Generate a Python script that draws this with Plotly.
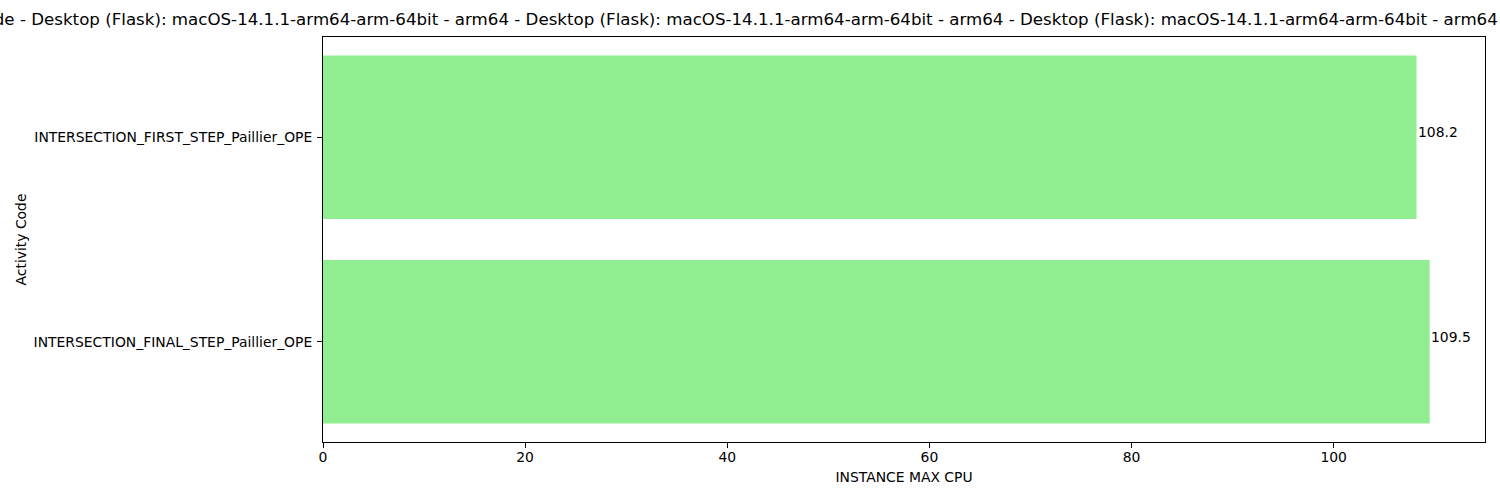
import plotly.graph_objects as go

categories = ["INTERSECTION_FINAL_STEP_Paillier_OPE", "INTERSECTION_FIRST_STEP_Paillier_OPE"]
values = [109.5, 108.2]
x_ticks = [0, 20, 40, 60, 80, 100]
env = " - Desktop (Flask): macOS-14.1.1-arm64-arm-64bit - arm64"
title_text = "Max CPU by Activity Code" + env * 4

FONT = "DejaVu Sans"

fig = go.Figure()
fig.add_trace(go.Bar(
    x=values, y=categories, orientation="h", width=0.8,
    marker=dict(color="#90EE90", line=dict(width=0)),
    hoverinfo="x+y",
))

for v, c in zip(values, categories):
    fig.add_annotation(
        x=v, y=c, xref="x", yref="y", text=f"{v:.1f}", showarrow=False,
        xanchor="left", yanchor="middle", yshift=5, borderpad=0,
        font=dict(family=FONT, size=13.9, color="black"),
    )

fig.update_layout(
    width=1500, height=500,
    margin=dict(l=323, r=15, t=37, b=58),
    paper_bgcolor="white", plot_bgcolor="white",
    showlegend=False,
    font=dict(family=FONT, size=13.9, color="black"),
    title=dict(text=title_text, x=0.4931, xref="paper", xanchor="center",
               y=1, yref="container", yanchor="top", pad=dict(t=13),
               font=dict(family=FONT, size=16.67, color="black")),
)
fig.update_xaxes(
    range=[0, 114.975], tickvals=x_ticks, ticktext=[str(t) for t in x_ticks],
    showgrid=False, zeroline=False,
    showline=True, linecolor="black", linewidth=1, mirror=True,
    ticks="outside", ticklen=5, tickwidth=1, tickcolor="black",
    ticklabelstandoff=-3,
    title=dict(text="INSTANCE MAX CPU", standoff=8, font=dict(family=FONT, size=13.9)),
)
fig.update_yaxes(
    type="category", categoryorder="array", categoryarray=categories,
    range=[-0.49, 1.49],
    showgrid=False, zeroline=False,
    showline=True, linecolor="black", linewidth=1, mirror=True,
    ticks="outside", ticklen=5, tickwidth=1, tickcolor="black",
    ticklabelstandoff=2,
    title=dict(text="Activity Code", standoff=3, font=dict(family=FONT, size=13.9)),
)

fig.write_html("out.html")
